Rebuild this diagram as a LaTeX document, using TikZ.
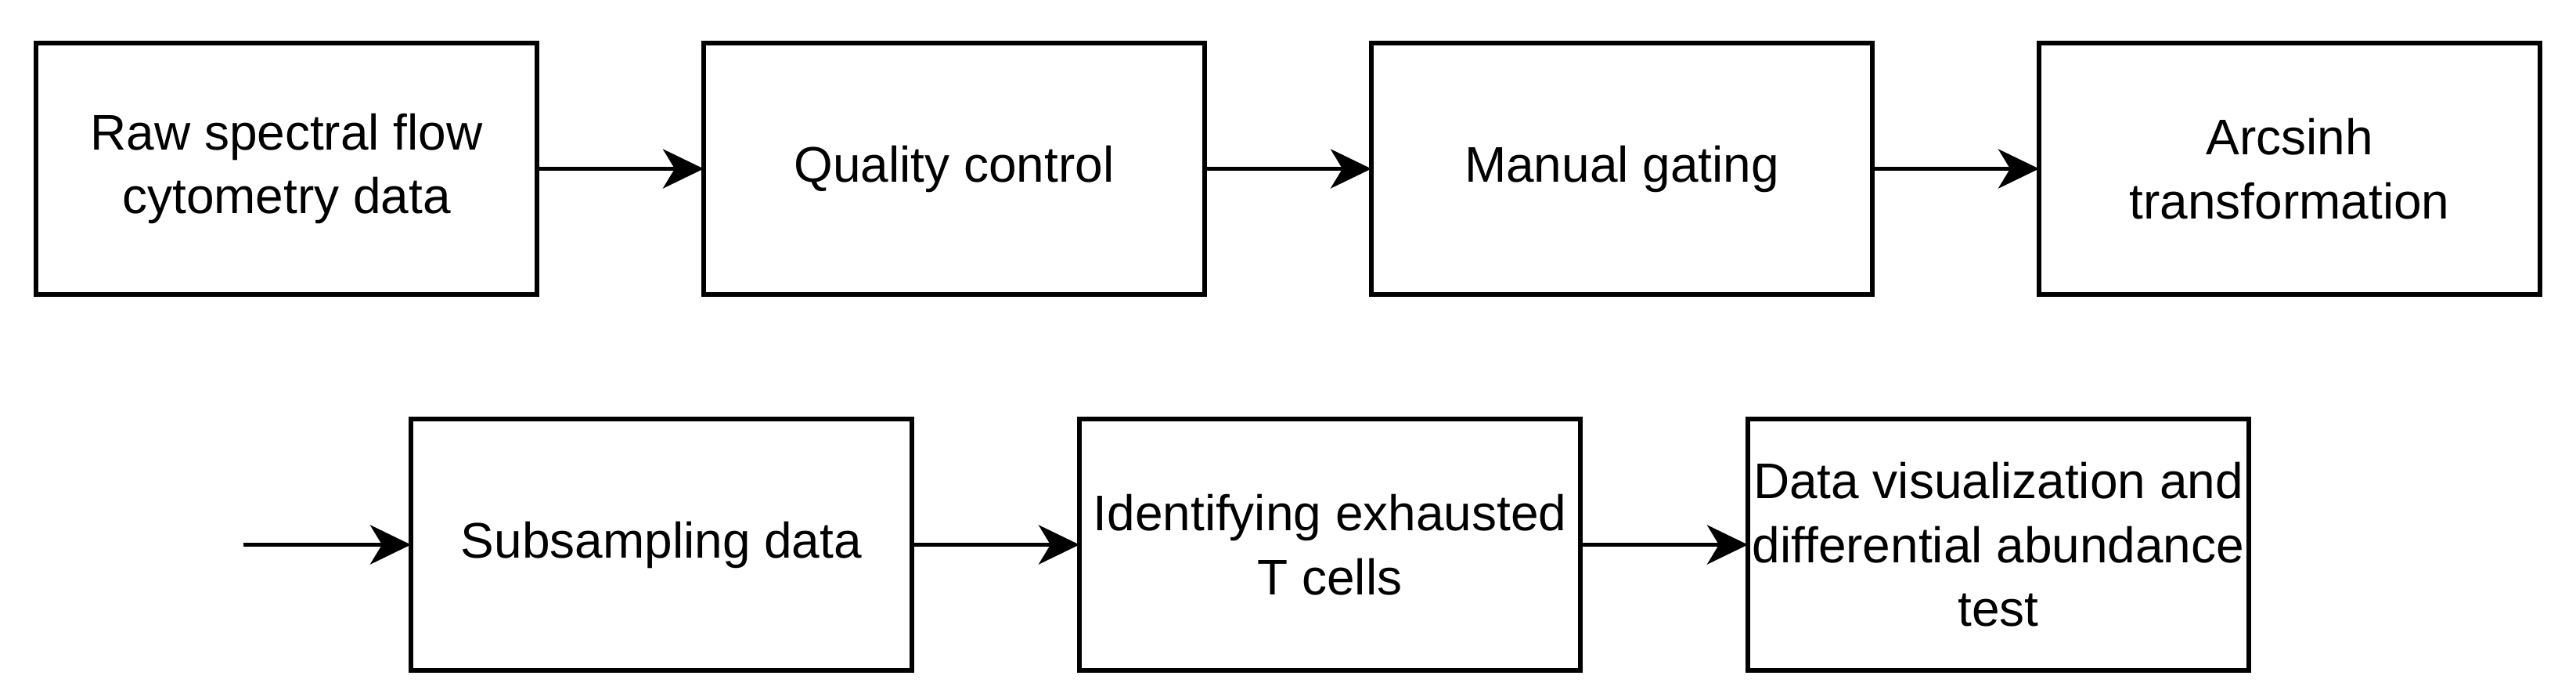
\documentclass[tikz,border=0pt]{standalone}
\usepackage{fontspec}
\setmainfont{Liberation Sans}
\usetikzlibrary{positioning,arrows.meta}

\tikzset{
    stepbox/.style={draw, line width=1.6pt, minimum width=6.4cm, minimum height=3.21cm,
        align=center, inner sep=0pt, outer sep=0pt,
        font=\fontsize{18.2}{23.2}\selectfont},
    flow/.style={line width=1.6pt, -{Stealth[length=0.52cm, width=0.5cm, inset=0.15cm]}}
}

\begin{document}
\begin{tikzpicture}
            \useasboundingbox (0,0) rectangle (32.91,8.8);

            \node[stepbox] (raw) at (3.66,6.645) {Raw spectral flow\\cytometry data};
            \node[stepbox, right=2.13cm of raw] (qc) {Quality control};
            \node[stepbox, right=2.13cm of qc] (gating) {Manual gating};
            \node[stepbox, right=2.13cm of gating] (arcsinh) {Arcsinh\\transformation};

            \node[stepbox] (subsample) at (8.45,1.845) {Subsampling data};
            \node[stepbox, right=2.14cm of subsample] (exhausted) {Identifying exhausted\\T cells};
            \node[stepbox, right=2.14cm of exhausted] (visual) {Data visualization and\\differential abundance\\test};

            \coordinate (start) at (3.11,1.845);

            \draw[flow] (raw) -- (qc);
            \draw[flow] (qc) -- (gating);
            \draw[flow] (gating) -- (arcsinh);
            \draw[flow] (start) -- (subsample);
            \draw[flow] (subsample) -- (exhausted);
            \draw[flow] (exhausted) -- (visual);
        \end{tikzpicture}
\end{document}
